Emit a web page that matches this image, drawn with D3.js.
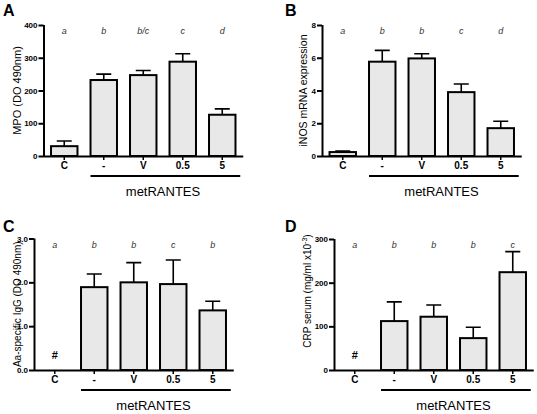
<!DOCTYPE html>
<html><head><meta charset="utf-8">
<script src="https://cdn.jsdelivr.net/npm/d3@7"></script>
<style>
html,body{margin:0;padding:0;background:#fff;}
svg{display:block;font-family:"Liberation Sans",Arial,Helvetica,sans-serif;}
</style></head>
<body><svg id="c" width="537" height="414"></svg>
<script>
const categories = ["C", "-", "V", "0.5", "5"];
const groupLabel = "metRANTES";

const mpoMeans = [30, 232, 247, 288, 126];
const mpoErr   = [46, 250, 261, 312, 144];
const mpoLetters = ["a", "b", "b/c", "c", "d"];
const mpoTicks = [0, 100, 200, 300, 400];

const inosMeans = [0.24, 5.76, 5.96, 3.9, 1.7];
const inosErr   = [0.3, 6.45, 6.24, 4.4, 2.12];
const inosLetters = ["a", "b", "b", "c", "d"];
const inosTicks = [0, 2, 4, 6, 8];

const iggMeans = [null, 1.89, 2.0, 1.96, 1.36];
const iggErr   = [null, 2.19, 2.45, 2.51, 1.57];
const iggLetters = ["a", "b", "b", "c", "b"];
const iggTicks = [0, 1, 2, 3];

const crpMeans = [null, 112, 122, 73, 224];
const crpErr   = [null, 156, 149, 98, 271];
const crpLetters = ["a", "b", "b", "b", "c"];
const crpTicks = [0, 100, 200, 300];

const panels = [
  {label:"A", means:mpoMeans, err:mpoErr, letters:mpoLetters, ticks:mpoTicks, max:400,
   ylab:"MPO (DO 490nm)", yfs:11, ax:43.5, y0:156, yt:25, lx:3, ly:16, ylx:17.5},
  {label:"B", means:inosMeans, err:inosErr, letters:inosLetters, ticks:inosTicks, max:8,
   ylab:"iNOS mRNA expression", yfs:10.5, ax:322, y0:156, yt:25, lx:285, ly:16, ylx:303},
  {label:"C", means:iggMeans, err:iggErr, letters:iggLetters, ticks:iggTicks, max:3,
   ylab:"Aa-specific IgG (DO 490nm)", yfs:10, ax:34, y0:370, yt:238.5, lx:3, ly:232, ylx:17.5},
  {label:"D", means:crpMeans, err:crpErr, letters:crpLetters, ticks:crpTicks, max:300,
   ylab:"CRP serum (mg/ml x10", sup:"-3", yfs:10, ycy:291, ax:334, y0:370, yt:239, lx:285, ly:232, ylx:307.5}
];

const svg = d3.select("#c");
const step = 39.5;

panels.forEach(p => {
  const g = svg.append("g");
  const x = d3.scaleBand().domain(categories)
    .range([p.ax + 1, p.ax + 1 + step * categories.length])
    .paddingInner(0.33).paddingOuter(0.165);
  const y = d3.scaleLinear().domain([0, p.max]).range([p.y0, p.yt]);
  const cx = c => x(c) + x.bandwidth() / 2;
  const last = categories[categories.length - 1];

  // panel label
  g.append("text").attr("x", p.lx).attr("y", p.ly).text(p.label)
    .attr("font-size", 16).attr("font-weight", "bold");

  // y axis
  const yAxis = d3.axisLeft(y).tickValues(p.ticks).tickSize(5).tickPadding(1).tickSizeOuter(0);
  const ya = g.append("g").attr("transform", `translate(${p.ax},0)`).call(yAxis);
  ya.select(".domain").attr("stroke-width", 2).attr("d", `M0.5,${p.y0 + 1}V${p.yt}`);
  ya.selectAll(".tick line").attr("stroke-width", 2);
  ya.selectAll(".tick text").attr("font-size", 8).attr("font-weight", "bold")
    .attr("font-family", "Liberation Sans, Arial, sans-serif").attr("fill", "#000");

  // y label
  const ycy = p.ycy !== undefined ? p.ycy : (p.y0 + p.yt) / 2;
  const yl = g.append("text")
    .attr("transform", `translate(${p.ylx},${ycy}) rotate(-90)`)
    .attr("text-anchor", "middle").attr("dy", "0.35em").attr("font-size", p.yfs);
  yl.append("tspan").text(p.ylab);
  if (p.sup) {
    yl.append("tspan").text(p.sup).attr("font-size", 7).attr("dy", -4);
    yl.append("tspan").text(")").attr("dy", 4);
  }

  // bars
  const data = categories.map((c, i) => ({c, m: p.means[i], e: p.err[i], l: p.letters[i]}));
  const vals = data.filter(d => d.m !== null);
  g.selectAll("rect.bar").data(vals).enter().append("rect")
    .attr("x", d => x(d.c)).attr("width", x.bandwidth())
    .attr("y", d => y(d.m)).attr("height", d => y(0) - y(d.m))
    .attr("fill", "#e8e8e8").attr("stroke", "#000").attr("stroke-width", 2);

  // error bars
  g.selectAll("path.err").data(vals).enter().append("path")
    .attr("d", d => `M${cx(d.c)},${y(d.m)}V${y(d.e)}M${cx(d.c) - 7.5},${y(d.e)}H${cx(d.c) + 7.5}`)
    .attr("stroke", "#000").attr("stroke-width", 1.6).attr("fill", "none");

  // missing value markers
  g.selectAll("text.hash").data(data.filter(d => d.m === null)).enter().append("text")
    .attr("x", d => cx(d.c)).attr("y", p.y0 - 11).attr("text-anchor", "middle")
    .attr("font-size", 11).attr("font-weight", "bold").text("#");

  // x axis
  const xAxis = d3.axisBottom(x).tickSize(4).tickPadding(2).tickSizeOuter(0);
  const xa = g.append("g").attr("transform", `translate(0,${p.y0})`).call(xAxis);
  xa.select(".domain").attr("stroke-width", 2).attr("d", `M${p.ax},0.5H${cx(last) + 21}`);
  xa.selectAll(".tick line").attr("stroke-width", 1.5);
  xa.selectAll(".tick text").attr("font-size", 10).attr("font-weight", "bold")
    .attr("font-family", "Liberation Sans, Arial, sans-serif").attr("fill", "#000");

  // significance letters
  g.selectAll("text.let").data(data).enter().append("text")
    .attr("x", d => cx(d.c)).attr("y", p.yt + 9).attr("text-anchor", "middle")
    .attr("font-size", 9).attr("font-style", "italic").attr("fill", "#333").text(d => d.l);

  // group bracket
  g.append("line").attr("x1", x(categories[1])).attr("x2", cx(last) + 18)
    .attr("y1", p.y0 + 20).attr("y2", p.y0 + 20).attr("stroke", "#000").attr("stroke-width", 2);
  g.append("text").attr("x", (cx(categories[1]) + cx(last)) / 2).attr("y", p.y0 + 40)
    .attr("text-anchor", "middle").attr("font-size", 13).text(groupLabel);
});
</script></body></html>
